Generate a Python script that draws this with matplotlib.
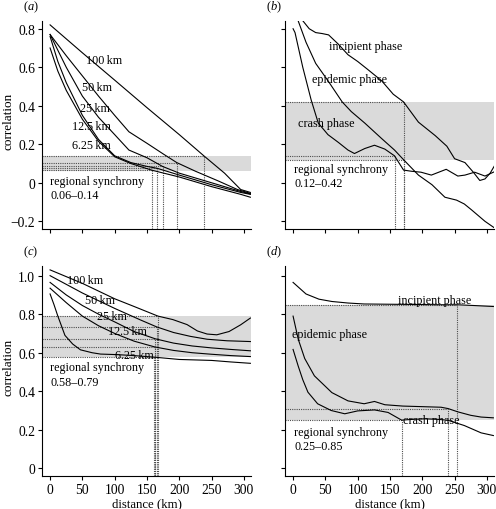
import numpy as np
import matplotlib
matplotlib.use('Agg')
import matplotlib.pyplot as plt

plt.rcParams['font.family'] = ['Liberation Serif', 'DejaVu Serif']
plt.rcParams['mathtext.fontset'] = 'custom'
plt.rcParams['mathtext.it'] = 'Liberation Serif:italic'
plt.rcParams['mathtext.rm'] = 'Liberation Serif'
plt.rcParams['font.size'] = 8.7

# ---- panel (a): correlation vs distance for each grain size
a_scales = ['100\u2009km', '50\u2009km', '25\u2009km', '12.5\u2009km', '6.25\u2009km']
a_x = [
    [0, 50, 100, 150, 200, 238, 270, 295, 310],
    [0, 25, 50, 75, 100, 122, 150, 175, 196, 225, 260, 290, 310],
    [0, 25, 50, 75, 100, 122, 150, 174, 200, 250, 295, 310],
    [0, 12, 25, 50, 75, 100, 125, 150, 166, 200, 250, 295, 310],
    [0, 12, 25, 50, 75, 100, 125, 158, 200, 250, 295, 310],
]
a_y = [
    [0.82, 0.675, 0.533, 0.39, 0.25, 0.14, 0.05, -0.035, -0.05],
    [0.77, 0.66, 0.555, 0.45, 0.35, 0.265, 0.205, 0.15, 0.105, 0.06, 0.01, -0.035, -0.055],
    [0.77, 0.60, 0.45, 0.34, 0.25, 0.17, 0.13, 0.085, 0.05, 0.0, -0.045, -0.058],
    [0.76, 0.63, 0.52, 0.35, 0.225, 0.14, 0.105, 0.085, 0.075, 0.04, -0.01, -0.05, -0.06],
    [0.70, 0.58, 0.48, 0.33, 0.215, 0.135, 0.10, 0.065, 0.03, -0.02, -0.06, -0.075],
]
a_cross_x = [238, 196, 174, 166, 158]
a_cross_y = [0.14, 0.105, 0.085, 0.075, 0.065]
a_band = (0.06, 0.14)
a_label_pos = [(56, 0.64), (49, 0.50), (47, 0.39), (34, 0.295), (34, 0.197)]

# ---- panel (b): correlation vs distance for each outbreak phase
b_phases = ['incipient phase', 'epidemic phase', 'crash phase']
b_x = [
    [0, 13, 25, 35, 45, 55, 70, 85, 100, 115, 137, 155, 171, 194, 220, 238, 250,
     266, 279, 289, 297, 305, 312],
    [0, 8, 20, 35, 54, 76, 90, 111, 137, 157, 171, 194, 215, 235, 253, 265, 276,
     297, 312],
    [0, 3, 15, 28, 39, 54, 70, 85, 95, 111, 126, 142, 157, 171, 183, 198, 214,
     237, 255, 266, 281, 297, 312],
]
b_y = [
    [0.93, 0.85, 0.80, 0.78, 0.775, 0.768, 0.72, 0.665, 0.63, 0.59, 0.53, 0.46,
     0.42, 0.315, 0.245, 0.19, 0.125, 0.105, 0.055, 0.012, 0.02, 0.05, 0.09],
    [0.93, 0.84, 0.73, 0.62, 0.53, 0.42, 0.37, 0.31, 0.23, 0.17, 0.12, 0.04,
     -0.01, -0.075, -0.09, -0.11, -0.14, -0.20, -0.235],
    [0.80, 0.78, 0.60, 0.43, 0.31, 0.25, 0.21, 0.17, 0.152, 0.178, 0.195, 0.175,
     0.14, 0.066, 0.06, 0.055, 0.04, 0.07, 0.035, 0.04, 0.055, 0.035, 0.058],
]
b_cross_x = [171, 171, 157]
b_cross_y = [0.42, 0.12, 0.14]
b_band = (0.12, 0.42)
b_label_pos = [(55, 0.71), (30, 0.537), (8, 0.31)]

# ---- panel (c)
c_x = [
    [0, 25, 50, 75, 100, 130, 167, 190, 212, 228, 243, 258, 277, 295, 310],
    [0, 25, 50, 75, 100, 140, 165, 191, 217, 243, 274, 310],
    [0, 25, 50, 75, 100, 130, 163, 191, 220, 250, 280, 310],
    [0, 25, 50, 75, 100, 130, 162, 191, 220, 250, 280, 310],
    [0, 6, 12, 23, 35, 47, 65, 78, 104, 130, 161, 200, 250, 280, 310],
]
c_y = [
    [1.03, 0.995, 0.96, 0.92, 0.88, 0.84, 0.79, 0.772, 0.746, 0.713, 0.697, 0.693,
     0.71, 0.745, 0.78],
    [1.0, 0.955, 0.91, 0.87, 0.83, 0.77, 0.734, 0.705, 0.685, 0.67, 0.662, 0.658],
    [0.965, 0.90, 0.845, 0.80, 0.76, 0.71, 0.672, 0.65, 0.635, 0.625, 0.617, 0.61],
    [0.935, 0.86, 0.79, 0.74, 0.70, 0.66, 0.63, 0.612, 0.60, 0.592, 0.585, 0.58],
    [0.905, 0.85, 0.79, 0.69, 0.645, 0.615, 0.60, 0.593, 0.59, 0.585, 0.577,
     0.565, 0.56, 0.552, 0.545],
]
c_cross_x = [167, 165, 163, 162, 161]
c_cross_y = [0.79, 0.734, 0.672, 0.63, 0.577]
c_band = (0.58, 0.79)
c_label_pos = [(26, 0.98), (54, 0.876), (73, 0.79), (90, 0.713), (101, 0.588)]

# ---- panel (d)
d_x = [
    [0, 10, 20, 40, 60, 85, 110, 140, 170, 200, 230, 254, 280, 310],
    [0, 8, 18, 33, 60, 85, 110, 126, 142, 170, 200, 229, 240, 255, 275, 291, 310],
    [0, 8, 15, 23, 38, 59, 80, 100, 126, 147, 168, 185, 204, 225, 240, 265, 291, 310],
]
d_y = [
    [0.965, 0.935, 0.905, 0.878, 0.866, 0.858, 0.853, 0.852, 0.851, 0.85, 0.849,
     0.849, 0.845, 0.84],
    [0.79, 0.67, 0.57, 0.48, 0.393, 0.35, 0.335, 0.347, 0.33, 0.323, 0.32, 0.317,
     0.31, 0.293, 0.275, 0.266, 0.262],
    [0.617, 0.53, 0.46, 0.395, 0.335, 0.30, 0.283, 0.298, 0.303, 0.29, 0.25,
     0.254, 0.257, 0.254, 0.249, 0.222, 0.184, 0.17],
]
d_cross_x = [254, 240, 168]
d_cross_y = [0.85, 0.31, 0.25]
d_band = (0.25, 0.85)
d_label_pos = [(163, 0.875), (-1, 0.695), (170, 0.25)]

xticks = [0, 50, 100, 150, 200, 250, 300]
ab_yticks = [-0.2, 0, 0.2, 0.4, 0.6, 0.8]
ab_yticklabels = ['\u22120.2', '0', '0.2', '0.4', '0.6', '0.8']
cd_yticks = [0, 0.2, 0.4, 0.6, 0.8, 1.0]
cd_yticklabels = ['0', '0.2', '0.4', '0.6', '0.8', '1.0']
xlim = (-12.5, 311)

fig = plt.figure(figsize=(4.96, 5.10), dpi=100)
ax_a = fig.add_axes([0.0847, 0.549, 0.4214, 0.4078])
ax_b = fig.add_axes([0.5746, 0.549, 0.4214, 0.4078])
ax_c = fig.add_axes([0.0847, 0.0647, 0.4214, 0.4117])
ax_d = fig.add_axes([0.5746, 0.0647, 0.4214, 0.4117])


def draw_panel(ax, xs, ys, cross_x, cross_y, band, labels, label_pos, ylim,
               yticks, yticklabels, band_text, band_pos, letter, left, bottom):
    ax.set_xlim(*xlim)
    ax.set_ylim(*ylim)
    ax.axhspan(band[0], band[1], color='#dadada', lw=0, zorder=0)
    for xx, yy in zip(xs, ys):
        ax.plot(xx, yy, color='black', lw=0.8, zorder=3)
    for cx, cy in zip(cross_x, cross_y):
        ax.plot([xlim[0], cx], [cy, cy], color='0.3', lw=0.8,
                linestyle=(0, (1, 1)), zorder=2)
        ax.plot([cx, cx], [ylim[0], cy], color='0.3', lw=0.8,
                linestyle=(0, (1, 1)), zorder=2)
    for lab, (lx, ly) in zip(labels, label_pos):
        ax.text(lx, ly, lab, ha='left', va='center', zorder=4)
    ax.text(band_pos[0], band_pos[1], 'regional synchrony\n' + band_text,
            ha='left', va='top', linespacing=1.25, zorder=4)
    for s in ['top', 'right']:
        ax.spines[s].set_visible(False)
    for s in ['left', 'bottom']:
        ax.spines[s].set_linewidth(0.8)
    ax.tick_params(direction='out', length=3, width=0.8, pad=2, labelsize=9.8)
    ax.set_xticks(xticks)
    ax.set_yticks(yticks)
    if left:
        ax.set_yticklabels(yticklabels)
        ax.set_ylabel('correlation', fontsize=9.5)
        ax.yaxis.set_label_coords(-0.13, 0.52)
    else:
        ax.set_yticklabels([])
    if bottom:
        ax.set_xticklabels([str(t) for t in xticks])
        ax.set_xlabel('distance (km)', fontsize=9.2, labelpad=1)
    else:
        ax.set_xticklabels([])
    ax.text(-0.09, 1.07, '($\\it{' + letter + '}$)', transform=ax.transAxes,
            ha='left', va='center', fontsize=9)


draw_panel(ax_a, a_x, a_y, a_cross_x, a_cross_y, a_band, a_scales, a_label_pos,
           (-0.24, 0.84), ab_yticks, ab_yticklabels, '0.06\u20130.14', (0, 0.04),
           'a', True, False)
draw_panel(ax_b, b_x, b_y, b_cross_x, b_cross_y, b_band, b_phases, b_label_pos,
           (-0.24, 0.84), ab_yticks, ab_yticklabels, '0.12\u20130.42', (1.5, 0.105),
           'b', False, False)
draw_panel(ax_c, c_x, c_y, c_cross_x, c_cross_y, c_band, a_scales, c_label_pos,
           (-0.04, 1.05), cd_yticks, cd_yticklabels, '0.58\u20130.79', (0, 0.555),
           'c', True, True)
draw_panel(ax_d, d_x, d_y, d_cross_x, d_cross_y, d_band, b_phases, d_label_pos,
           (-0.04, 1.05), cd_yticks, cd_yticklabels, '0.25\u20130.85', (1.5, 0.22),
           'd', False, True)

fig.savefig('out.png', dpi=100)
